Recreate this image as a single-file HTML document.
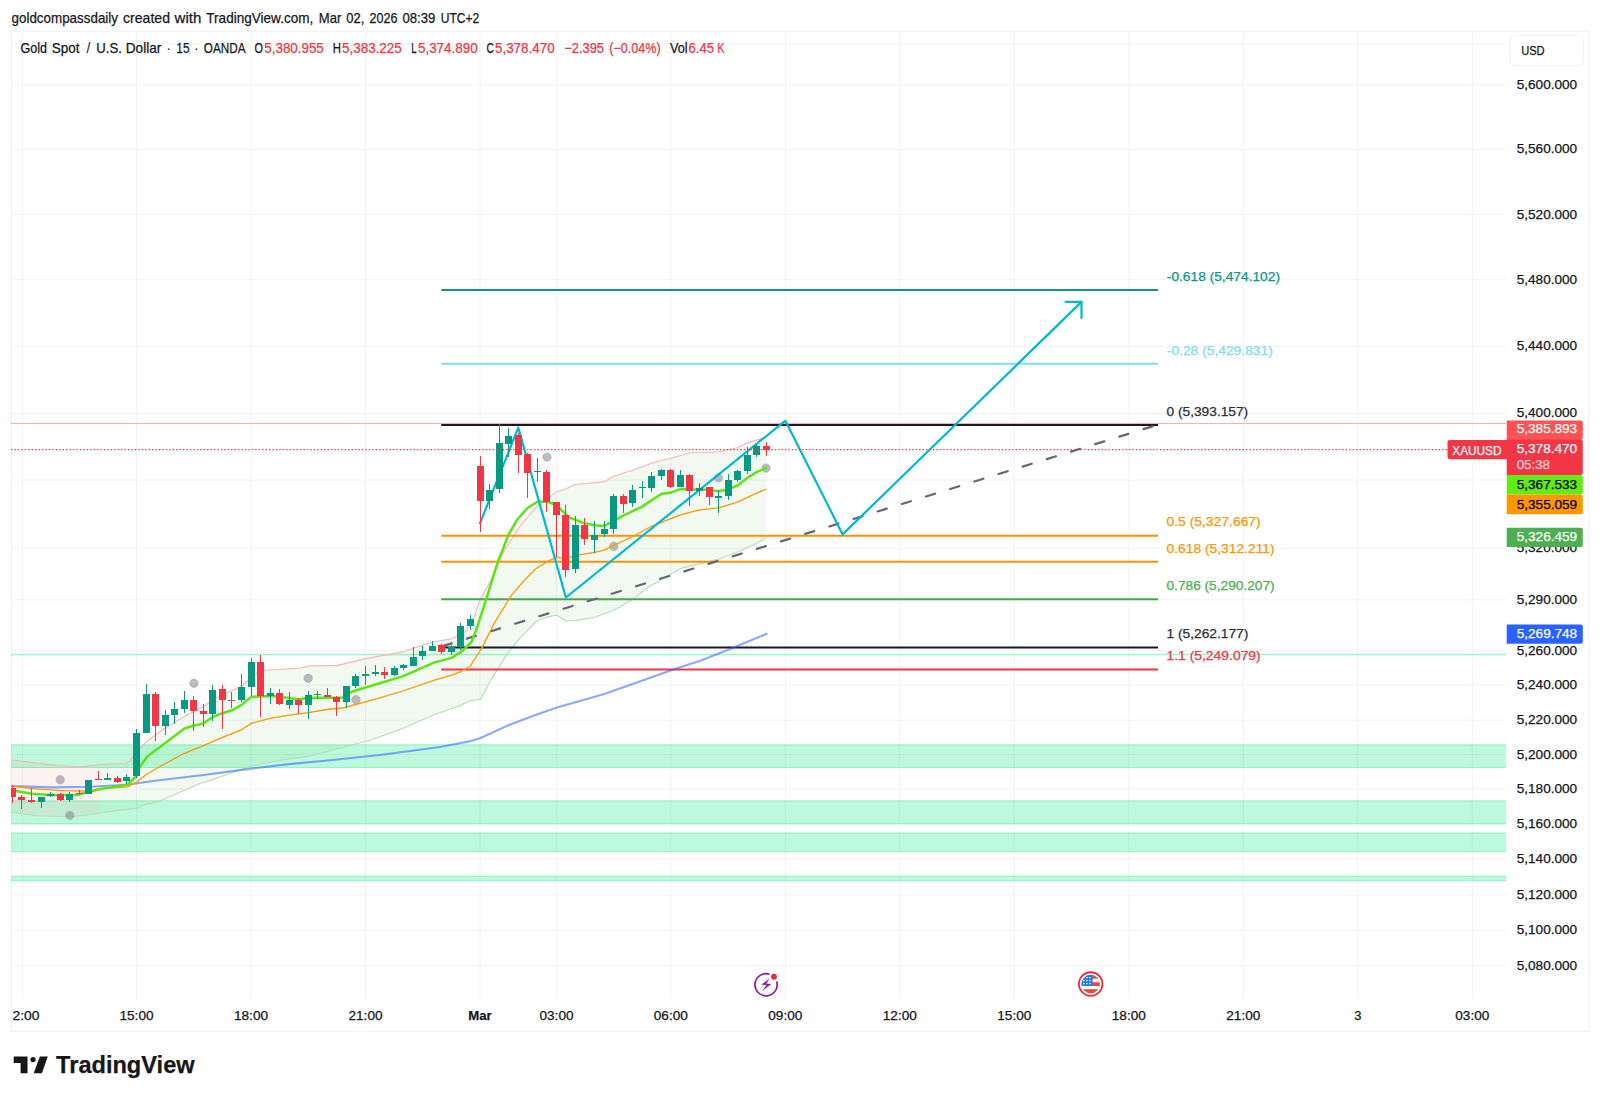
<!DOCTYPE html><html><head><meta charset="utf-8"><title>XAUUSD chart</title>
<style>html,body{margin:0;padding:0;background:#fff}body{width:1600px;height:1100px;overflow:hidden;font-family:"Liberation Sans", sans-serif}svg{display:block}text{font-family:"Liberation Sans", sans-serif}</style></head><body>
<svg width="1600" height="1100" viewBox="0 0 1600 1100">
<rect width="1600" height="1100" fill="#fff"/>
<g stroke="#f1f2f3" stroke-width="1">
<line x1="11" y1="44" x2="1506" y2="44"/>
<line x1="11" y1="84.7" x2="1506" y2="84.7"/>
<line x1="11" y1="149.3" x2="1506" y2="149.3"/>
<line x1="11" y1="214.5" x2="1506" y2="214.5"/>
<line x1="11" y1="279.7" x2="1506" y2="279.7"/>
<line x1="11" y1="346.4" x2="1506" y2="346.4"/>
<line x1="11" y1="413.5" x2="1506" y2="413.5"/>
<line x1="11" y1="480" x2="1506" y2="480"/>
<line x1="11" y1="548.2" x2="1506" y2="548.2"/>
<line x1="11" y1="599.8" x2="1506" y2="599.8"/>
<line x1="11" y1="650.5" x2="1506" y2="650.5"/>
<line x1="11" y1="685.1" x2="1506" y2="685.1"/>
<line x1="11" y1="720.2" x2="1506" y2="720.2"/>
<line x1="11" y1="754.5" x2="1506" y2="754.5"/>
<line x1="11" y1="789.2" x2="1506" y2="789.2"/>
<line x1="11" y1="824.3" x2="1506" y2="824.3"/>
<line x1="11" y1="859.3" x2="1506" y2="859.3"/>
<line x1="11" y1="895" x2="1506" y2="895"/>
<line x1="11" y1="930.4" x2="1506" y2="930.4"/>
<line x1="11" y1="965.6" x2="1506" y2="965.6"/>
<line x1="22.5" y1="31" x2="22.5" y2="999"/>
<line x1="136.5" y1="31" x2="136.5" y2="999"/>
<line x1="251" y1="31" x2="251" y2="999"/>
<line x1="365.5" y1="31" x2="365.5" y2="999"/>
<line x1="480" y1="31" x2="480" y2="999"/>
<line x1="556.3" y1="31" x2="556.3" y2="999"/>
<line x1="670.8" y1="31" x2="670.8" y2="999"/>
<line x1="785.3" y1="31" x2="785.3" y2="999"/>
<line x1="899.8" y1="31" x2="899.8" y2="999"/>
<line x1="1014.3" y1="31" x2="1014.3" y2="999"/>
<line x1="1128.8" y1="31" x2="1128.8" y2="999"/>
<line x1="1243.3" y1="31" x2="1243.3" y2="999"/>
<line x1="1357.8" y1="31" x2="1357.8" y2="999"/>
<line x1="1472.3" y1="31" x2="1472.3" y2="999"/>
</g>
<path d="M11.5 31V1032M1588.8 31V1032M11 31.3H1589.3M11 1031.5H1589.3" fill="none" stroke="#eff0f2" stroke-width="1"/>
<defs><clipPath id="pane"><rect x="11" y="31" width="1495" height="968"/></clipPath></defs>
<g clip-path="url(#pane)">
<rect x="11" y="744.8" width="1495" height="22.7" fill="#00e676" fill-opacity="0.25"/>
<path d="M11 744.8H1506M11 767.5H1506" stroke="#00e676" stroke-opacity="0.35" stroke-width="1" fill="none"/>
<rect x="11" y="800.8" width="1495" height="22.9" fill="#00e676" fill-opacity="0.25"/>
<path d="M11 800.8H1506M11 823.7H1506" stroke="#00e676" stroke-opacity="0.35" stroke-width="1" fill="none"/>
<rect x="11" y="832.9" width="1495" height="18.8" fill="#00e676" fill-opacity="0.25"/>
<path d="M11 832.9H1506M11 851.7H1506" stroke="#00e676" stroke-opacity="0.35" stroke-width="1" fill="none"/>
<rect x="11" y="876.1" width="1495" height="4.6" fill="#00e676" fill-opacity="0.25"/>
<path d="M11 876.1H1506M11 880.7H1506" stroke="#00e676" stroke-opacity="0.35" stroke-width="1" fill="none"/>
<rect x="11" y="654.0" width="1495" height="1.1" fill="#00e676" fill-opacity="0.25" stroke="#00e676" stroke-opacity="0.3" stroke-width="0.6"/>
<line x1="11" y1="423.4" x2="1506" y2="423.4" stroke="#f7a9a7" stroke-width="1"/>
<polygon points="11.0,759.8 38.2,763.2 61.1,765.7 78.9,767.0 98.7,764.8 98.7,813.3 89.1,814.8 70.0,816.7 38.2,816.0 11.0,812.0" fill="#f23645" fill-opacity="0.07"/>
<polygon points="98.7,764.8 101.8,764.5 126.7,763.2 130.0,760.3 136.4,752.0 146.3,741.8 165.3,727.8 184.5,716.4 203.5,706.2 222.4,694.7 241.5,686.5 247.1,681.4 257.3,672.5 265.0,670.3 299.3,668.3 308.2,666.1 330.0,665.5 336.5,665.6 365.8,658.6 404.0,651.6 413.6,648.1 432.4,642.0 451.8,638.8 460.0,634.4 465.1,631.8 472.7,621.7 480.4,598.7 490.6,580.9 502.0,555.5 504.6,550.0 521.1,524.6 538.9,504.2 556.4,492.1 565.7,488.9 575.2,484.5 603.9,481.9 613.7,476.2 632.7,470.3 651.6,463.3 670.9,458.2 689.8,452.8 708.7,452.5 718.4,451.8 737.4,447.8 747.3,442.9 756.5,440.1 766.1,437.0 766.2,437.0 766.2,537.9 756.5,543.5 739.3,551.3 719.0,559.1 681.9,568.1 660.5,580.0 648.4,587.3 632.5,599.4 613.7,610.2 594.6,617.2 575.2,620.6 566.0,621.0 556.4,615.0 549.1,616.6 536.8,621.0 519.8,638.2 507.5,653.6 489.3,682.7 480.5,699.3 469.3,700.9 460.0,705.7 434.6,714.6 402.7,728.6 370.9,740.0 330.0,750.8 308.5,756.5 289.1,759.0 270.0,762.2 251.2,766.0 211.5,780.0 200.0,783.6 178.2,793.1 159.1,801.4 146.4,803.9 136.5,808.4 114.6,810.9 98.7,813.3" fill="#4caf50" fill-opacity="0.08"/>
<polyline points="11.0,759.8 38.2,763.2 61.1,765.7 78.9,767.0 101.8,764.5 126.7,763.2 130.0,760.3 136.4,752.0 146.3,741.8 165.3,727.8 184.5,716.4 203.5,706.2 222.4,694.7 241.5,686.5 247.1,681.4 257.3,672.5 265.0,670.3 299.3,668.3 308.2,666.1 330.0,665.5 336.5,665.6 365.8,658.6 404.0,651.6 413.6,648.1 432.4,642.0 451.8,638.8 460.0,634.4 465.1,631.8 472.7,621.7 480.4,598.7 490.6,580.9 502.0,555.5 504.6,550.0 521.1,524.6 538.9,504.2 556.4,492.1 565.7,488.9 575.2,484.5 603.9,481.9 613.7,476.2 632.7,470.3 651.6,463.3 670.9,458.2 689.8,452.8 708.7,452.5 718.4,451.8 737.4,447.8 747.3,442.9 756.5,440.1 766.1,437.0" fill="none" stroke="#f7b4b4" stroke-width="1.1" stroke-linejoin="round"/>
<polyline points="11.0,812.0 38.2,816.0 70.0,816.7 89.1,814.8 114.6,810.9 136.5,808.4 146.4,803.9 159.1,801.4 178.2,793.1 200.0,783.6 211.5,780.0 251.2,766.0 270.0,762.2 289.1,759.0 308.5,756.5 330.0,750.8 370.9,740.0 402.7,728.6 434.6,714.6 460.0,705.7 469.3,700.9 480.5,699.3 489.3,682.7 507.5,653.6 519.8,638.2 536.8,621.0 549.1,616.6 556.4,615.0 566.0,621.0 575.2,620.6 594.6,617.2 613.7,610.2 632.5,599.4 648.4,587.3 660.5,580.0 681.9,568.1 719.0,559.1 739.3,551.3 756.5,543.5 766.4,537.8" fill="none" stroke="#b4dfb6" stroke-width="1.1" stroke-linejoin="round"/>
<circle cx="60.2" cy="779.8" r="4.2" fill="#787b86" fill-opacity="0.5" stroke="#9598a1" stroke-opacity="0.6" stroke-width="0.8"/>
<circle cx="69.8" cy="815.4" r="4.2" fill="#787b86" fill-opacity="0.5" stroke="#9598a1" stroke-opacity="0.6" stroke-width="0.8"/>
<circle cx="193.9" cy="683.3" r="4.2" fill="#787b86" fill-opacity="0.5" stroke="#9598a1" stroke-opacity="0.6" stroke-width="0.8"/>
<circle cx="308.2" cy="678.2" r="4.2" fill="#787b86" fill-opacity="0.5" stroke="#9598a1" stroke-opacity="0.6" stroke-width="0.8"/>
<circle cx="356" cy="699.7" r="4.2" fill="#787b86" fill-opacity="0.5" stroke="#9598a1" stroke-opacity="0.6" stroke-width="0.8"/>
<circle cx="547" cy="457.1" r="4.2" fill="#787b86" fill-opacity="0.5" stroke="#9598a1" stroke-opacity="0.6" stroke-width="0.8"/>
<circle cx="613.7" cy="546.3" r="4.2" fill="#787b86" fill-opacity="0.5" stroke="#9598a1" stroke-opacity="0.6" stroke-width="0.8"/>
<circle cx="718.4" cy="477.9" r="4.2" fill="#787b86" fill-opacity="0.5" stroke="#9598a1" stroke-opacity="0.6" stroke-width="0.8"/>
<circle cx="766.1" cy="468.1" r="4.2" fill="#787b86" fill-opacity="0.5" stroke="#9598a1" stroke-opacity="0.6" stroke-width="0.8"/>
<line x1="441.2" y1="290" x2="1158" y2="290" stroke="#089981" stroke-width="2"/>
<line x1="441.2" y1="363.8" x2="1158" y2="363.8" stroke="#80deea" stroke-width="2"/>
<line x1="441.2" y1="424.9" x2="1158" y2="424.9" stroke="#171a27" stroke-width="2"/>
<line x1="441.2" y1="535.7" x2="1158" y2="535.7" stroke="#ff9000" stroke-width="2"/>
<line x1="441.2" y1="561.8" x2="1158" y2="561.8" stroke="#ff9000" stroke-width="2"/>
<line x1="441.2" y1="599.3" x2="1158" y2="599.3" stroke="#43a947" stroke-width="2"/>
<line x1="441.2" y1="647.4" x2="1158" y2="647.4" stroke="#171a27" stroke-width="2"/>
<line x1="441.2" y1="669.5" x2="1158" y2="669.5" stroke="#f23645" stroke-width="2"/>
<line x1="441.5" y1="646.5" x2="1157" y2="425" stroke="#636673" stroke-width="2.2" stroke-linecap="round" stroke-dasharray="9.5 15.8" stroke-dashoffset="-1.2"/>
<polyline points="11.0,786.0 12.7,786.1 50.9,787.4 89.1,786.8 127.3,784.8 152.8,781.0 203.5,775.0 251.2,768.6 289.1,764.1 330.0,760.3 380.0,755.0 440.0,747.0 469.3,741.4 480.5,738.0 507.5,725.6 536.8,714.4 557.0,707.6 604.3,694.1 642.5,680.6 671.8,670.0 701.0,660.4 732.5,648.0 766.7,633.8" fill="none" stroke="#2962ff" stroke-opacity="0.55" stroke-width="2.1" stroke-linejoin="round" stroke-linecap="round"/>
<polyline points="11.0,785.9 12.7,786.1 31.8,788.7 63.7,790.6 82.7,791.2 101.8,788.7 127.3,786.8 136.5,782.3 147.2,773.7 165.3,763.5 184.5,753.3 203.5,745.7 222.4,737.4 241.5,729.8 251.2,723.4 270.0,718.3 289.1,715.1 308.5,712.6 330.0,709.0 342.9,708.0 374.7,699.3 402.7,691.0 434.6,680.2 451.8,675.1 461.3,671.3 470.2,666.2 476.0,657.0 481.6,648.4 494.4,622.9 510.9,596.2 523.7,580.9 536.4,568.2 549.1,560.6 556.4,557.4 565.7,558.6 575.2,555.5 594.6,552.3 603.9,550.1 613.7,545.3 632.7,536.5 651.6,526.3 670.9,518.7 680.2,514.8 699.6,509.8 718.4,507.8 737.4,502.1 756.5,493.2 766.4,489.0" fill="none" stroke="#ff9800" stroke-width="1.3" stroke-linejoin="round"/>
<polyline points="11.0,790.3 12.7,790.6 31.8,793.8 50.9,795.0 76.4,795.0 89.1,791.8 101.8,788.7 127.3,784.8 136.5,776.0 139.5,767.3 147.2,756.5 165.3,743.1 184.5,728.5 193.9,725.6 203.5,723.4 212.7,717.0 222.4,713.2 232.1,710.3 241.5,704.9 251.2,696.9 260.9,696.4 270.0,696.0 279.8,696.7 289.1,697.9 298.7,699.2 308.5,697.9 317.8,697.7 332.7,697.8 342.9,697.4 351.8,691.7 374.7,684.7 402.7,676.4 434.6,662.4 451.8,657.9 461.3,651.6 466.4,647.1 471.5,642.0 476.5,629.3 488.0,593.7 498.2,560.6 502.6,550.0 508.4,534.8 517.3,519.5 527.5,508.0 537.3,501.7 547.0,501.7 556.4,504.8 561.8,510.6 569.5,517.6 584.8,523.3 594.6,525.2 603.9,526.1 613.7,520.8 623.3,515.7 632.7,511.0 642.3,506.6 651.6,500.2 661.1,494.1 670.9,492.6 680.2,489.1 689.8,489.4 699.6,489.4 708.7,489.8 718.4,491.3 725.7,490.0 737.4,485.6 747.3,477.9 756.5,472.2 766.1,468.1" fill="none" stroke="#5ce514" stroke-width="2.5" stroke-linejoin="round" stroke-linecap="round"/>
<polyline points="480,523.3 518.3,427.6 565.9,597.5 785.4,420.7 842.6,534.4 1081.5,301.9" fill="none" stroke="#00b8d4" stroke-width="2.2" stroke-linejoin="round" stroke-linecap="round"/>
<polyline points="1065.6,301.9 1081.5,301.9 1081.5,317.9" fill="none" stroke="#00b8d4" stroke-width="2.2" stroke-linejoin="round" stroke-linecap="round"/>
<g shape-rendering="crispEdges">
<rect x="12" y="785" width="1" height="18" fill="#f23645"/>
<rect x="9" y="788" width="7" height="9" fill="#f23645"/>
<rect x="21" y="795" width="1" height="14" fill="#f23645"/>
<rect x="18" y="797" width="7" height="3" fill="#f23645"/>
<rect x="31" y="788" width="1" height="15" fill="#f23645"/>
<rect x="28" y="800" width="7" height="2" fill="#f23645"/>
<rect x="41" y="797" width="1" height="11" fill="#089981"/>
<rect x="38" y="797" width="7" height="5" fill="#089981"/>
<rect x="50" y="792" width="1" height="5" fill="#089981"/>
<rect x="47" y="794" width="7" height="2" fill="#089981"/>
<rect x="60" y="793" width="1" height="8" fill="#f23645"/>
<rect x="57" y="794" width="7" height="6" fill="#f23645"/>
<rect x="69" y="792" width="1" height="10" fill="#089981"/>
<rect x="66" y="794" width="7" height="6" fill="#089981"/>
<rect x="79" y="790" width="1" height="5" fill="#f23645"/>
<rect x="76" y="793" width="7" height="1" fill="#f23645"/>
<rect x="88" y="780" width="1" height="14" fill="#089981"/>
<rect x="85" y="780" width="7" height="14" fill="#089981"/>
<rect x="98" y="771" width="1" height="9" fill="#f23645"/>
<rect x="95" y="779" width="7" height="1" fill="#f23645"/>
<rect x="107" y="773" width="1" height="7" fill="#089981"/>
<rect x="104" y="778" width="7" height="2" fill="#089981"/>
<rect x="117" y="776" width="1" height="7" fill="#f23645"/>
<rect x="114" y="778" width="7" height="4" fill="#f23645"/>
<rect x="126" y="774" width="1" height="10" fill="#089981"/>
<rect x="123" y="777" width="7" height="4" fill="#089981"/>
<rect x="136" y="729" width="1" height="49" fill="#089981"/>
<rect x="133" y="733" width="7" height="43" fill="#089981"/>
<rect x="146" y="684" width="1" height="49" fill="#089981"/>
<rect x="143" y="694" width="7" height="39" fill="#089981"/>
<rect x="155" y="692" width="1" height="49" fill="#f23645"/>
<rect x="152" y="694" width="7" height="32" fill="#f23645"/>
<rect x="165" y="710" width="1" height="25" fill="#089981"/>
<rect x="162" y="715" width="7" height="11" fill="#089981"/>
<rect x="174" y="702" width="1" height="22" fill="#089981"/>
<rect x="171" y="709" width="7" height="6" fill="#089981"/>
<rect x="184" y="691" width="1" height="22" fill="#089981"/>
<rect x="181" y="700" width="7" height="9" fill="#089981"/>
<rect x="193" y="696" width="1" height="35" fill="#f23645"/>
<rect x="190" y="700" width="7" height="11" fill="#f23645"/>
<rect x="203" y="704" width="1" height="23" fill="#f23645"/>
<rect x="200" y="711" width="7" height="3" fill="#f23645"/>
<rect x="212" y="685" width="1" height="36" fill="#089981"/>
<rect x="209" y="690" width="7" height="24" fill="#089981"/>
<rect x="222" y="685" width="1" height="44" fill="#f23645"/>
<rect x="219" y="689" width="7" height="11" fill="#f23645"/>
<rect x="231" y="692" width="1" height="16" fill="#f23645"/>
<rect x="228" y="700" width="7" height="1" fill="#f23645"/>
<rect x="241" y="674" width="1" height="28" fill="#089981"/>
<rect x="238" y="687" width="7" height="13" fill="#089981"/>
<rect x="251" y="658" width="1" height="38" fill="#089981"/>
<rect x="248" y="662" width="7" height="25" fill="#089981"/>
<rect x="260" y="655" width="1" height="62" fill="#f23645"/>
<rect x="257" y="662" width="7" height="34" fill="#f23645"/>
<rect x="270" y="688" width="1" height="16" fill="#089981"/>
<rect x="267" y="693" width="7" height="3" fill="#089981"/>
<rect x="279" y="689" width="1" height="16" fill="#f23645"/>
<rect x="276" y="693" width="7" height="11" fill="#f23645"/>
<rect x="289" y="692" width="1" height="17" fill="#089981"/>
<rect x="286" y="700" width="7" height="5" fill="#089981"/>
<rect x="298" y="698" width="1" height="16" fill="#f23645"/>
<rect x="295" y="700" width="7" height="5" fill="#f23645"/>
<rect x="308" y="691" width="1" height="28" fill="#089981"/>
<rect x="305" y="695" width="7" height="10" fill="#089981"/>
<rect x="317" y="691" width="1" height="8" fill="#089981"/>
<rect x="314" y="694" width="7" height="1" fill="#089981"/>
<rect x="327" y="688" width="1" height="9" fill="#f23645"/>
<rect x="324" y="695" width="7" height="2" fill="#f23645"/>
<rect x="336" y="696" width="1" height="20" fill="#f23645"/>
<rect x="333" y="697" width="7" height="5" fill="#f23645"/>
<rect x="346" y="686" width="1" height="22" fill="#089981"/>
<rect x="343" y="686" width="7" height="16" fill="#089981"/>
<rect x="355" y="674" width="1" height="14" fill="#089981"/>
<rect x="352" y="676" width="7" height="10" fill="#089981"/>
<rect x="365" y="666" width="1" height="19" fill="#089981"/>
<rect x="362" y="674" width="7" height="2" fill="#089981"/>
<rect x="375" y="665" width="1" height="11" fill="#089981"/>
<rect x="372" y="672" width="7" height="2" fill="#089981"/>
<rect x="384" y="667" width="1" height="12" fill="#f23645"/>
<rect x="381" y="672" width="7" height="3" fill="#f23645"/>
<rect x="394" y="666" width="1" height="10" fill="#089981"/>
<rect x="391" y="668" width="7" height="7" fill="#089981"/>
<rect x="403" y="664" width="1" height="6" fill="#089981"/>
<rect x="400" y="665" width="7" height="3" fill="#089981"/>
<rect x="413" y="647" width="1" height="19" fill="#089981"/>
<rect x="410" y="657" width="7" height="9" fill="#089981"/>
<rect x="422" y="646" width="1" height="14" fill="#089981"/>
<rect x="419" y="651" width="7" height="5" fill="#089981"/>
<rect x="432" y="641" width="1" height="10" fill="#089981"/>
<rect x="429" y="646" width="7" height="5" fill="#089981"/>
<rect x="441" y="644" width="1" height="10" fill="#f23645"/>
<rect x="438" y="645" width="7" height="7" fill="#f23645"/>
<rect x="451" y="645" width="1" height="10" fill="#089981"/>
<rect x="448" y="647" width="7" height="5" fill="#089981"/>
<rect x="460" y="623" width="1" height="27" fill="#089981"/>
<rect x="457" y="626" width="7" height="21" fill="#089981"/>
<rect x="470" y="615" width="1" height="15" fill="#089981"/>
<rect x="467" y="619" width="7" height="7" fill="#089981"/>
<rect x="480" y="456" width="1" height="76" fill="#f23645"/>
<rect x="477" y="466" width="7" height="35" fill="#f23645"/>
<rect x="489" y="484" width="1" height="25" fill="#089981"/>
<rect x="486" y="490" width="7" height="11" fill="#089981"/>
<rect x="499" y="424" width="1" height="69" fill="#089981"/>
<rect x="496" y="443" width="7" height="46" fill="#089981"/>
<rect x="508" y="428" width="1" height="29" fill="#089981"/>
<rect x="505" y="436" width="7" height="8" fill="#089981"/>
<rect x="518" y="433" width="1" height="40" fill="#f23645"/>
<rect x="515" y="435" width="7" height="20" fill="#f23645"/>
<rect x="527" y="453" width="1" height="45" fill="#f23645"/>
<rect x="524" y="454" width="7" height="19" fill="#f23645"/>
<rect x="537" y="458" width="1" height="24" fill="#089981"/>
<rect x="534" y="471" width="7" height="1" fill="#089981"/>
<rect x="546" y="470" width="1" height="42" fill="#f23645"/>
<rect x="543" y="472" width="7" height="30" fill="#f23645"/>
<rect x="556" y="502" width="1" height="55" fill="#f23645"/>
<rect x="553" y="502" width="7" height="13" fill="#f23645"/>
<rect x="565" y="505" width="1" height="72" fill="#f23645"/>
<rect x="562" y="515" width="7" height="55" fill="#f23645"/>
<rect x="575" y="516" width="1" height="57" fill="#089981"/>
<rect x="572" y="525" width="7" height="44" fill="#089981"/>
<rect x="584" y="518" width="1" height="27" fill="#f23645"/>
<rect x="581" y="525" width="7" height="14" fill="#f23645"/>
<rect x="594" y="521" width="1" height="32" fill="#089981"/>
<rect x="591" y="535" width="7" height="5" fill="#089981"/>
<rect x="604" y="521" width="1" height="16" fill="#089981"/>
<rect x="601" y="529" width="7" height="5" fill="#089981"/>
<rect x="613" y="494" width="1" height="40" fill="#089981"/>
<rect x="610" y="496" width="7" height="33" fill="#089981"/>
<rect x="623" y="494" width="1" height="19" fill="#f23645"/>
<rect x="620" y="496" width="7" height="8" fill="#f23645"/>
<rect x="632" y="485" width="1" height="22" fill="#089981"/>
<rect x="629" y="490" width="7" height="13" fill="#089981"/>
<rect x="642" y="481" width="1" height="17" fill="#089981"/>
<rect x="639" y="487" width="7" height="1" fill="#089981"/>
<rect x="651" y="472" width="1" height="20" fill="#089981"/>
<rect x="648" y="476" width="7" height="12" fill="#089981"/>
<rect x="661" y="469" width="1" height="11" fill="#089981"/>
<rect x="658" y="470" width="7" height="6" fill="#089981"/>
<rect x="670" y="469" width="1" height="19" fill="#f23645"/>
<rect x="667" y="470" width="7" height="17" fill="#f23645"/>
<rect x="680" y="470" width="1" height="17" fill="#089981"/>
<rect x="677" y="475" width="7" height="12" fill="#089981"/>
<rect x="689" y="474" width="1" height="32" fill="#f23645"/>
<rect x="686" y="475" width="7" height="16" fill="#f23645"/>
<rect x="699" y="483" width="1" height="13" fill="#089981"/>
<rect x="696" y="488" width="7" height="3" fill="#089981"/>
<rect x="709" y="487" width="1" height="18" fill="#f23645"/>
<rect x="706" y="487" width="7" height="10" fill="#f23645"/>
<rect x="718" y="490" width="1" height="23" fill="#089981"/>
<rect x="715" y="496" width="7" height="2" fill="#089981"/>
<rect x="728" y="474" width="1" height="26" fill="#089981"/>
<rect x="725" y="480" width="7" height="16" fill="#089981"/>
<rect x="737" y="470" width="1" height="12" fill="#089981"/>
<rect x="734" y="471" width="7" height="9" fill="#089981"/>
<rect x="747" y="447" width="1" height="27" fill="#089981"/>
<rect x="744" y="455" width="7" height="16" fill="#089981"/>
<rect x="756" y="444" width="1" height="13" fill="#089981"/>
<rect x="753" y="446" width="7" height="9" fill="#089981"/>
<rect x="766" y="442" width="1" height="14" fill="#f23645"/>
<rect x="763" y="446" width="7" height="4" fill="#f23645"/>
</g>
<line x1="11" y1="449.6" x2="1448" y2="449.6" stroke="#f23645" stroke-width="1.4" stroke-dasharray="1.4 2.04"/>
</g>
<text x="1166.80" y="280.90" font-size="12.6" fill="#089981" stroke="#089981" stroke-width="0.25" font-weight="400" textLength="113.20" lengthAdjust="spacingAndGlyphs" >-0.618 (5,474.102)</text>
<text x="1166.80" y="354.50" font-size="12.6" fill="#80deea" stroke="#80deea" stroke-width="0.25" font-weight="400" textLength="106.00" lengthAdjust="spacingAndGlyphs" >-0.28 (5,429.831)</text>
<text x="1166.50" y="415.60" font-size="12.6" fill="#2a2e39" stroke="#2a2e39" stroke-width="0.25" font-weight="400" textLength="81.70" lengthAdjust="spacingAndGlyphs" >0 (5,393.157)</text>
<text x="1166.50" y="526.30" font-size="12.6" fill="#ff9800" stroke="#ff9800" stroke-width="0.25" font-weight="400" textLength="94.20" lengthAdjust="spacingAndGlyphs" >0.5 (5,327.667)</text>
<text x="1166.50" y="552.60" font-size="12.6" fill="#ff9800" stroke="#ff9800" stroke-width="0.25" font-weight="400" textLength="108.10" lengthAdjust="spacingAndGlyphs" >0.618 (5,312.211)</text>
<text x="1166.50" y="590.00" font-size="12.6" fill="#4caf50" stroke="#4caf50" stroke-width="0.25" font-weight="400" textLength="108.10" lengthAdjust="spacingAndGlyphs" >0.786 (5,290.207)</text>
<text x="1166.50" y="638.20" font-size="12.6" fill="#2a2e39" stroke="#2a2e39" stroke-width="0.25" font-weight="400" textLength="81.80" lengthAdjust="spacingAndGlyphs" >1 (5,262.177)</text>
<text x="1166.50" y="660.30" font-size="12.6" fill="#f23645" stroke="#f23645" stroke-width="0.25" font-weight="400" textLength="94.20" lengthAdjust="spacingAndGlyphs" >1.1 (5,249.079)</text>
<text x="1516.70" y="88.70" font-size="12.7" fill="#131722" stroke="#131722" stroke-width="0.25" font-weight="400" textLength="60.50" lengthAdjust="spacingAndGlyphs" >5,600.000</text>
<text x="1516.70" y="153.30" font-size="12.7" fill="#131722" stroke="#131722" stroke-width="0.25" font-weight="400" textLength="60.50" lengthAdjust="spacingAndGlyphs" >5,560.000</text>
<text x="1516.70" y="218.50" font-size="12.7" fill="#131722" stroke="#131722" stroke-width="0.25" font-weight="400" textLength="60.50" lengthAdjust="spacingAndGlyphs" >5,520.000</text>
<text x="1516.70" y="283.70" font-size="12.7" fill="#131722" stroke="#131722" stroke-width="0.25" font-weight="400" textLength="60.50" lengthAdjust="spacingAndGlyphs" >5,480.000</text>
<text x="1516.70" y="350.40" font-size="12.7" fill="#131722" stroke="#131722" stroke-width="0.25" font-weight="400" textLength="60.50" lengthAdjust="spacingAndGlyphs" >5,440.000</text>
<text x="1516.70" y="416.60" font-size="12.7" fill="#131722" stroke="#131722" stroke-width="0.25" font-weight="400" textLength="60.50" lengthAdjust="spacingAndGlyphs" >5,400.000</text>
<text x="1516.70" y="552.20" font-size="12.7" fill="#131722" stroke="#131722" stroke-width="0.25" font-weight="400" textLength="60.50" lengthAdjust="spacingAndGlyphs" >5,320.000</text>
<text x="1516.70" y="603.70" font-size="12.7" fill="#131722" stroke="#131722" stroke-width="0.25" font-weight="400" textLength="60.50" lengthAdjust="spacingAndGlyphs" >5,290.000</text>
<text x="1516.70" y="654.50" font-size="12.7" fill="#131722" stroke="#131722" stroke-width="0.25" font-weight="400" textLength="60.50" lengthAdjust="spacingAndGlyphs" >5,260.000</text>
<text x="1516.70" y="689.10" font-size="12.7" fill="#131722" stroke="#131722" stroke-width="0.25" font-weight="400" textLength="60.50" lengthAdjust="spacingAndGlyphs" >5,240.000</text>
<text x="1516.70" y="724.20" font-size="12.7" fill="#131722" stroke="#131722" stroke-width="0.25" font-weight="400" textLength="60.50" lengthAdjust="spacingAndGlyphs" >5,220.000</text>
<text x="1516.70" y="758.50" font-size="12.7" fill="#131722" stroke="#131722" stroke-width="0.25" font-weight="400" textLength="60.50" lengthAdjust="spacingAndGlyphs" >5,200.000</text>
<text x="1516.70" y="793.20" font-size="12.7" fill="#131722" stroke="#131722" stroke-width="0.25" font-weight="400" textLength="60.50" lengthAdjust="spacingAndGlyphs" >5,180.000</text>
<text x="1516.70" y="828.30" font-size="12.7" fill="#131722" stroke="#131722" stroke-width="0.25" font-weight="400" textLength="60.50" lengthAdjust="spacingAndGlyphs" >5,160.000</text>
<text x="1516.70" y="863.30" font-size="12.7" fill="#131722" stroke="#131722" stroke-width="0.25" font-weight="400" textLength="60.50" lengthAdjust="spacingAndGlyphs" >5,140.000</text>
<text x="1516.70" y="899.00" font-size="12.7" fill="#131722" stroke="#131722" stroke-width="0.25" font-weight="400" textLength="60.50" lengthAdjust="spacingAndGlyphs" >5,120.000</text>
<text x="1516.70" y="934.40" font-size="12.7" fill="#131722" stroke="#131722" stroke-width="0.25" font-weight="400" textLength="60.50" lengthAdjust="spacingAndGlyphs" >5,100.000</text>
<text x="1516.70" y="969.60" font-size="12.7" fill="#131722" stroke="#131722" stroke-width="0.25" font-weight="400" textLength="60.50" lengthAdjust="spacingAndGlyphs" >5,080.000</text>
<rect x="1510.5" y="35.5" width="73" height="30" rx="4" fill="#fff" stroke="#eef0f3" stroke-width="1"/>
<text x="1521.20" y="54.50" font-size="12.7" fill="#131722" stroke="#131722" stroke-width="0.25" font-weight="400" textLength="23.40" lengthAdjust="spacingAndGlyphs" >USD</text>
<path d="M1506.7 420.4H1580.8Q1582.8 420.4 1582.8 422.4V438Q1582.8 440 1580.8 440H1506.7Z" fill="#ff5252"/>
<path d="M1506.7 439.6H1580.8Q1582.8 439.6 1582.8 441.6V473Q1582.8 475 1580.8 475H1506.7Z" fill="#f23645"/>
<path d="M1506.7 475H1580.8Q1582.8 475 1582.8 477V492.6Q1582.8 494.6 1580.8 494.6H1506.7Z" fill="#62ec16"/>
<path d="M1506.7 494.6H1580.8Q1582.8 494.6 1582.8 496.6V512.2Q1582.8 514.2 1580.8 514.2H1506.7Z" fill="#ff9800"/>
<path d="M1506.7 527.8H1580.8Q1582.8 527.8 1582.8 529.8V545Q1582.8 547 1580.8 547H1506.7Z" fill="#4caf50"/>
<path d="M1506.7 624.6H1580.8Q1582.8 624.6 1582.8 626.6V641.8Q1582.8 643.8 1580.8 643.8H1506.7Z" fill="#2962ff"/>
<path d="M1449.6 440H1507V459.2H1449.6Q1447.5 459.2 1447.5 457.1V442.1Q1447.5 440 1449.6 440Z" fill="#f23645"/>
<text x="1516.70" y="433.40" font-size="12.7" fill="#fff" stroke="#fff" stroke-width="0.25" font-weight="400" textLength="60.50" lengthAdjust="spacingAndGlyphs" >5,385.893</text>
<text x="1516.70" y="453.20" font-size="12.7" fill="#fff" stroke="#fff" stroke-width="0.25" font-weight="400" textLength="60.50" lengthAdjust="spacingAndGlyphs" >5,378.470</text>
<text x="1516.70" y="469.10" font-size="12.7" fill="#fbd2d6" stroke="#fbd2d6" stroke-width="0.25" font-weight="400" textLength="33.30" lengthAdjust="spacingAndGlyphs" >05:38</text>
<text x="1516.70" y="488.80" font-size="12.7" fill="#000" stroke="#000" stroke-width="0.25" font-weight="400" textLength="60.50" lengthAdjust="spacingAndGlyphs" >5,367.533</text>
<text x="1516.70" y="508.50" font-size="12.7" fill="#000" stroke="#000" stroke-width="0.25" font-weight="400" textLength="60.50" lengthAdjust="spacingAndGlyphs" >5,355.059</text>
<text x="1516.70" y="541.40" font-size="12.7" fill="#fff" stroke="#fff" stroke-width="0.25" font-weight="400" textLength="60.50" lengthAdjust="spacingAndGlyphs" >5,326.459</text>
<text x="1516.70" y="638.10" font-size="12.7" fill="#fff" stroke="#fff" stroke-width="0.25" font-weight="400" textLength="60.50" lengthAdjust="spacingAndGlyphs" >5,269.748</text>
<text x="1452.30" y="454.60" font-size="12.8" fill="#fff" stroke="#fff" stroke-width="0.25" font-weight="400" textLength="49.20" lengthAdjust="spacingAndGlyphs" >XAUUSD</text>
<text x="12.50" y="1020.00" font-size="12.7" fill="#131722" stroke="#131722" stroke-width="0.25" font-weight="400" textLength="27.00" lengthAdjust="spacingAndGlyphs" >2:00</text>
<text x="119.50" y="1020.00" font-size="12.7" fill="#131722" stroke="#131722" stroke-width="0.25" font-weight="400" textLength="34.00" lengthAdjust="spacingAndGlyphs" >15:00</text>
<text x="234.00" y="1020.00" font-size="12.7" fill="#131722" stroke="#131722" stroke-width="0.25" font-weight="400" textLength="34.00" lengthAdjust="spacingAndGlyphs" >18:00</text>
<text x="348.50" y="1020.00" font-size="12.7" fill="#131722" stroke="#131722" stroke-width="0.25" font-weight="400" textLength="34.00" lengthAdjust="spacingAndGlyphs" >21:00</text>
<text x="539.50" y="1020.00" font-size="12.7" fill="#131722" stroke="#131722" stroke-width="0.25" font-weight="400" textLength="34.00" lengthAdjust="spacingAndGlyphs" >03:00</text>
<text x="653.80" y="1020.00" font-size="12.7" fill="#131722" stroke="#131722" stroke-width="0.25" font-weight="400" textLength="34.00" lengthAdjust="spacingAndGlyphs" >06:00</text>
<text x="768.30" y="1020.00" font-size="12.7" fill="#131722" stroke="#131722" stroke-width="0.25" font-weight="400" textLength="34.00" lengthAdjust="spacingAndGlyphs" >09:00</text>
<text x="882.80" y="1020.00" font-size="12.7" fill="#131722" stroke="#131722" stroke-width="0.25" font-weight="400" textLength="34.00" lengthAdjust="spacingAndGlyphs" >12:00</text>
<text x="997.30" y="1020.00" font-size="12.7" fill="#131722" stroke="#131722" stroke-width="0.25" font-weight="400" textLength="34.00" lengthAdjust="spacingAndGlyphs" >15:00</text>
<text x="1111.80" y="1020.00" font-size="12.7" fill="#131722" stroke="#131722" stroke-width="0.25" font-weight="400" textLength="34.00" lengthAdjust="spacingAndGlyphs" >18:00</text>
<text x="1226.30" y="1020.00" font-size="12.7" fill="#131722" stroke="#131722" stroke-width="0.25" font-weight="400" textLength="34.00" lengthAdjust="spacingAndGlyphs" >21:00</text>
<text x="1455.30" y="1020.00" font-size="12.7" fill="#131722" stroke="#131722" stroke-width="0.25" font-weight="400" textLength="34.00" lengthAdjust="spacingAndGlyphs" >03:00</text>
<text x="468.30" y="1020.00" font-size="12.7" fill="#131722" stroke="#131722" stroke-width="0.25" font-weight="700" textLength="23.40" lengthAdjust="spacingAndGlyphs" >Mar</text>
<text x="1354.30" y="1020.00" font-size="12.7" fill="#131722" stroke="#131722" stroke-width="0.25" font-weight="400" textLength="7.20" lengthAdjust="spacingAndGlyphs" >3</text>
<path d="M776.66 981.39A11.1 11.1 0 1 1 769.61 974.21" fill="none" stroke="#8f18ab" stroke-width="1.7" stroke-linecap="butt"/>
<path d="M769.4 978.8L761.5 984.6L766.6 984.95L762.5 990.8L771.1 984.1L766.3 983.75Z" fill="#8f18ab" stroke="#8f18ab" stroke-width="0.15" stroke-linejoin="round"/>
<circle cx="773.95" cy="976.8" r="2.95" fill="#f0283c"/>
<circle cx="1090.7" cy="984.0" r="11.75" fill="#fff" stroke="#f0283c" stroke-width="1.8"/>
<defs><clipPath id="fl"><circle cx="1090.7" cy="984.0" r="9.2"/></clipPath></defs>
<g clip-path="url(#fl)"><rect x="1080" y="973" width="22" height="22" fill="#fff"/>
<rect x="1080" y="974" width="22" height="4.7" fill="#ec473f"/>
<rect x="1080" y="982.2" width="22" height="3.8" fill="#ec473f"/>
<rect x="1080" y="989.2" width="22" height="5" fill="#ec473f"/>
<rect x="1080" y="973" width="12.6" height="13" fill="#1e7ce4"/>
<rect x="1083.00" y="976.90" width="1.6" height="1.4" rx="0.4" fill="#fff"/>
<rect x="1083.00" y="979.90" width="1.6" height="1.4" rx="0.4" fill="#fff"/>
<rect x="1083.00" y="982.90" width="1.6" height="1.4" rx="0.4" fill="#fff"/>
<rect x="1086.05" y="976.90" width="1.6" height="1.4" rx="0.4" fill="#fff"/>
<rect x="1086.05" y="979.90" width="1.6" height="1.4" rx="0.4" fill="#fff"/>
<rect x="1086.05" y="982.90" width="1.6" height="1.4" rx="0.4" fill="#fff"/>
<rect x="1089.10" y="976.90" width="1.6" height="1.4" rx="0.4" fill="#fff"/>
<rect x="1089.10" y="979.90" width="1.6" height="1.4" rx="0.4" fill="#fff"/>
<rect x="1089.10" y="982.90" width="1.6" height="1.4" rx="0.4" fill="#fff"/>
</g>
<text x="11.50" y="22.80" font-size="14.8" fill="#131722" stroke="#131722" stroke-width="0.25" font-weight="400" textLength="106.50" lengthAdjust="spacingAndGlyphs" >goldcompassdaily</text>
<text x="123.00" y="22.80" font-size="14.8" fill="#131722" stroke="#131722" stroke-width="0.25" font-weight="400" textLength="47.00" lengthAdjust="spacingAndGlyphs" >created</text>
<text x="174.50" y="22.80" font-size="14.8" fill="#131722" stroke="#131722" stroke-width="0.25" font-weight="400" textLength="26.80" lengthAdjust="spacingAndGlyphs" >with</text>
<text x="206.30" y="22.80" font-size="14.8" fill="#131722" stroke="#131722" stroke-width="0.25" font-weight="400" textLength="107.00" lengthAdjust="spacingAndGlyphs" >TradingView.com,</text>
<text x="318.80" y="22.80" font-size="14.8" fill="#131722" stroke="#131722" stroke-width="0.25" font-weight="400" textLength="22.50" lengthAdjust="spacingAndGlyphs" >Mar</text>
<text x="346.30" y="22.80" font-size="14.8" fill="#131722" stroke="#131722" stroke-width="0.25" font-weight="400" textLength="18.00" lengthAdjust="spacingAndGlyphs" >02,</text>
<text x="369.50" y="22.80" font-size="14.8" fill="#131722" stroke="#131722" stroke-width="0.25" font-weight="400" textLength="28.00" lengthAdjust="spacingAndGlyphs" >2026</text>
<text x="402.50" y="22.80" font-size="14.8" fill="#131722" stroke="#131722" stroke-width="0.25" font-weight="400" textLength="32.80" lengthAdjust="spacingAndGlyphs" >08:39</text>
<text x="440.80" y="22.80" font-size="14.8" fill="#131722" stroke="#131722" stroke-width="0.25" font-weight="400" textLength="38.50" lengthAdjust="spacingAndGlyphs" >UTC+2</text>
<text x="20.50" y="53.20" font-size="13.9" fill="#131722" stroke="#131722" stroke-width="0.25" font-weight="400" textLength="26.50" lengthAdjust="spacingAndGlyphs" >Gold</text>
<text x="51.80" y="53.20" font-size="13.9" fill="#131722" stroke="#131722" stroke-width="0.25" font-weight="400" textLength="27.70" lengthAdjust="spacingAndGlyphs" >Spot</text>
<text x="96.30" y="53.20" font-size="13.9" fill="#131722" stroke="#131722" stroke-width="0.25" font-weight="400" textLength="25.50" lengthAdjust="spacingAndGlyphs" >U.S.</text>
<text x="125.80" y="53.20" font-size="13.9" fill="#131722" stroke="#131722" stroke-width="0.25" font-weight="400" textLength="35.50" lengthAdjust="spacingAndGlyphs" >Dollar</text>
<text x="176.30" y="53.20" font-size="13.9" fill="#131722" stroke="#131722" stroke-width="0.25" font-weight="400" textLength="13.20" lengthAdjust="spacingAndGlyphs" >15</text>
<text x="203.80" y="53.20" font-size="13.9" fill="#131722" stroke="#131722" stroke-width="0.25" font-weight="400" textLength="41.80" lengthAdjust="spacingAndGlyphs" >OANDA</text>
<text x="254.50" y="53.20" font-size="13.9" fill="#131722" stroke="#131722" stroke-width="0.25" font-weight="400" textLength="8.50" lengthAdjust="spacingAndGlyphs" >O</text>
<text x="332.80" y="53.20" font-size="13.9" fill="#131722" stroke="#131722" stroke-width="0.25" font-weight="400" textLength="8.20" lengthAdjust="spacingAndGlyphs" >H</text>
<text x="411.20" y="53.20" font-size="13.9" fill="#131722" stroke="#131722" stroke-width="0.25" font-weight="400" textLength="5.30" lengthAdjust="spacingAndGlyphs" >L</text>
<text x="486.60" y="53.20" font-size="13.9" fill="#131722" stroke="#131722" stroke-width="0.25" font-weight="400" textLength="7.40" lengthAdjust="spacingAndGlyphs" >C</text>
<text x="670.00" y="53.20" font-size="13.9" fill="#131722" stroke="#131722" stroke-width="0.25" font-weight="400" textLength="17.60" lengthAdjust="spacingAndGlyphs" >Vol</text>
<text x="88.4" y="53.2" font-size="13.9" fill="#131722" text-anchor="middle">/</text>
<text x="168.5" y="53.2" font-size="13.9" fill="#131722" text-anchor="middle">·</text>
<text x="196.3" y="53.2" font-size="13.9" fill="#131722" text-anchor="middle">·</text>
<text x="264.30" y="53.20" font-size="13.9" fill="#f23645" stroke="#f23645" stroke-width="0.25" font-weight="400" textLength="59.50" lengthAdjust="spacingAndGlyphs" >5,380.955</text>
<text x="342.00" y="53.20" font-size="13.9" fill="#f23645" stroke="#f23645" stroke-width="0.25" font-weight="400" textLength="59.80" lengthAdjust="spacingAndGlyphs" >5,383.225</text>
<text x="418.00" y="53.20" font-size="13.9" fill="#f23645" stroke="#f23645" stroke-width="0.25" font-weight="400" textLength="59.60" lengthAdjust="spacingAndGlyphs" >5,374.890</text>
<text x="495.00" y="53.20" font-size="13.9" fill="#f23645" stroke="#f23645" stroke-width="0.25" font-weight="400" textLength="59.60" lengthAdjust="spacingAndGlyphs" >5,378.470</text>
<text x="564.30" y="53.20" font-size="13.9" fill="#f23645" stroke="#f23645" stroke-width="0.25" font-weight="400" textLength="39.70" lengthAdjust="spacingAndGlyphs" >−2.395</text>
<text x="609.30" y="53.20" font-size="13.9" fill="#f23645" stroke="#f23645" stroke-width="0.25" font-weight="400" textLength="51.30" lengthAdjust="spacingAndGlyphs" >(−0.04%)</text>
<text x="688.60" y="53.20" font-size="13.9" fill="#f23645" stroke="#f23645" stroke-width="0.25" font-weight="400" textLength="25.40" lengthAdjust="spacingAndGlyphs" >6.45</text>
<text x="717.30" y="53.20" font-size="13.9" fill="#f23645" stroke="#f23645" stroke-width="0.25" font-weight="400" textLength="7.30" lengthAdjust="spacingAndGlyphs" >K</text>
<g fill="#171717"><path d="M13.7 1056.5H27.5V1073.3H20.6V1063.1H13.7Z"/><circle cx="33" cy="1059.6" r="2.6"/><path d="M39.9 1056.5H47.8L41.9 1073.3H33.7Z"/></g>
<text x="56.10" y="1073.30" font-size="23" fill="#171717" stroke="#171717" stroke-width="0.25" font-weight="700" textLength="138.50" lengthAdjust="spacingAndGlyphs" >TradingView</text>
</svg></body></html>
